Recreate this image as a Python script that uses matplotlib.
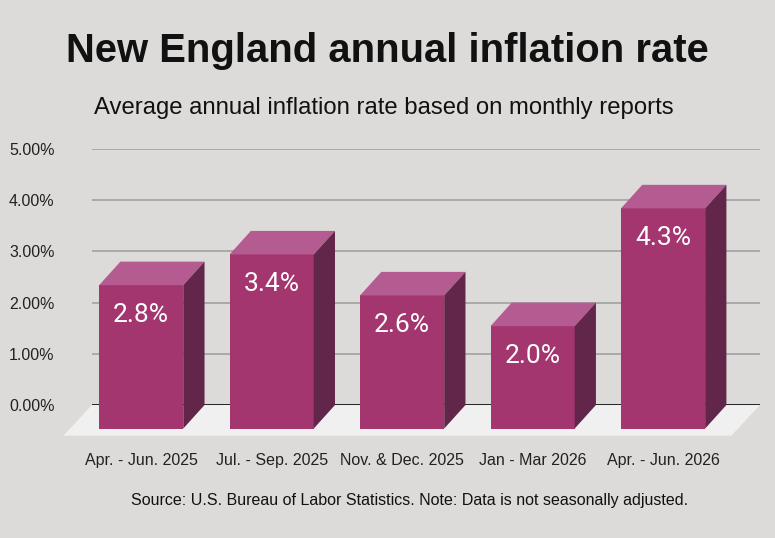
import matplotlib.pyplot as plt
from matplotlib.patches import Polygon

# Data
periods = ['Apr. - Jun. 2025', 'Jul. - Sep. 2025', 'Nov. & Dec. 2025',
           'Jan - Mar 2026', 'Apr. - Jun. 2026']
rates = [2.8, 3.4, 2.6, 2.0, 4.3]
y_ticks = [0, 1, 2, 3, 4, 5]
y_tick_labels = ['0.00%', '1.00%', '2.00%', '3.00%', '4.00%', '5.00%']

bg = '#dcdbd9'
front_col = '#a3366f'
top_col = '#b45b92'
side_col = '#62264a'

W, H = 775, 538
fig = plt.figure(figsize=(W / 100, H / 100), dpi=100, facecolor=bg)

# axes placed so gridlines span x 92..760 px, 0% at y=405 px, 5% at y=149 px
ax = fig.add_axes([92 / W, (H - 405) / H, (760 - 92) / W, (405 - 149) / H])
ax.set_facecolor('none')
xlim = (-0.54, 4.58)
ax.set_xlim(*xlim)
ax.set_ylim(0, 5)
for s in ax.spines.values():
    s.set_visible(False)

# 3d depth expressed in data units
ddx, ddy = 0.163, 0.46     # bar depth
fdx, fdy = 0.22, 0.60      # floor depth
bw = 0.645

# floor
ax.add_patch(Polygon([(xlim[0], 0), (xlim[1], 0), (xlim[1] - fdx, -fdy),
                      (xlim[0] - fdx, -fdy)], closed=True,
                     facecolor='#f0f0f0', edgecolor='none', clip_on=False, zorder=1))

# gridlines
for t in y_ticks[1:]:
    ax.plot(xlim, [t, t], color='#a9a9a9', lw=1.4, zorder=2, solid_capstyle='butt')
ax.plot(xlim, [0, 0], color='#222222', lw=1.4, zorder=2, solid_capstyle='butt')

ax.set_yticks(y_ticks)
ax.set_yticklabels(y_tick_labels, fontsize=11.5, family='Liberation Sans', color='#222222')
ax.tick_params(axis='y', length=0, pad=27)
ax.set_xticks([])

for i, v in enumerate(rates):
    bl = i - bw / 2   # back left
    br = i + bw / 2   # back right
    # front face
    ax.add_patch(Polygon([(bl - ddx, -ddy), (br - ddx, -ddy), (br - ddx, v - ddy),
                          (bl - ddx, v - ddy)], closed=True, facecolor=front_col,
                         edgecolor='none', clip_on=False, zorder=3))
    # top face
    ax.add_patch(Polygon([(bl - ddx, v - ddy), (br - ddx, v - ddy), (br, v), (bl, v)],
                         closed=True, facecolor=top_col, edgecolor='none',
                         clip_on=False, zorder=3))
    # side face
    ax.add_patch(Polygon([(br - ddx, -ddy), (br, 0), (br, v), (br - ddx, v - ddy)],
                         closed=True, facecolor=side_col, edgecolor='none',
                         clip_on=False, zorder=3))
    ax.text(i - ddx, v - ddy - 0.58, f'{v:.1f}%', color='white', fontsize=19,
            family='Roboto', ha='center', va='center', zorder=4)
    ax.text(i - ddx, -1.09, periods[i], fontsize=11.5, family='Liberation Sans',
            color='#222222', ha='center', va='center')

fig.text(387 / W, 1 - 62 / H, 'New England annual inflation rate', ha='center',
         va='baseline', fontsize=28.8, fontweight='bold', family='Liberation Sans',
         color='#111111')
fig.text(384 / W, 1 - 114 / H, 'Average annual inflation rate based on monthly reports',
         ha='center', va='baseline', fontsize=17.2, family='Liberation Sans',
         color='#111111')
fig.text(409.5 / W, 1 - 501 / H,
         'Source: U.S. Bureau of Labor Statistics. Note: Data is not seasonally adjusted.',
         ha='center', va='center', fontsize=11.5, family='Liberation Sans', color='#111111')

fig.savefig('out.png', dpi=100, facecolor=bg)
